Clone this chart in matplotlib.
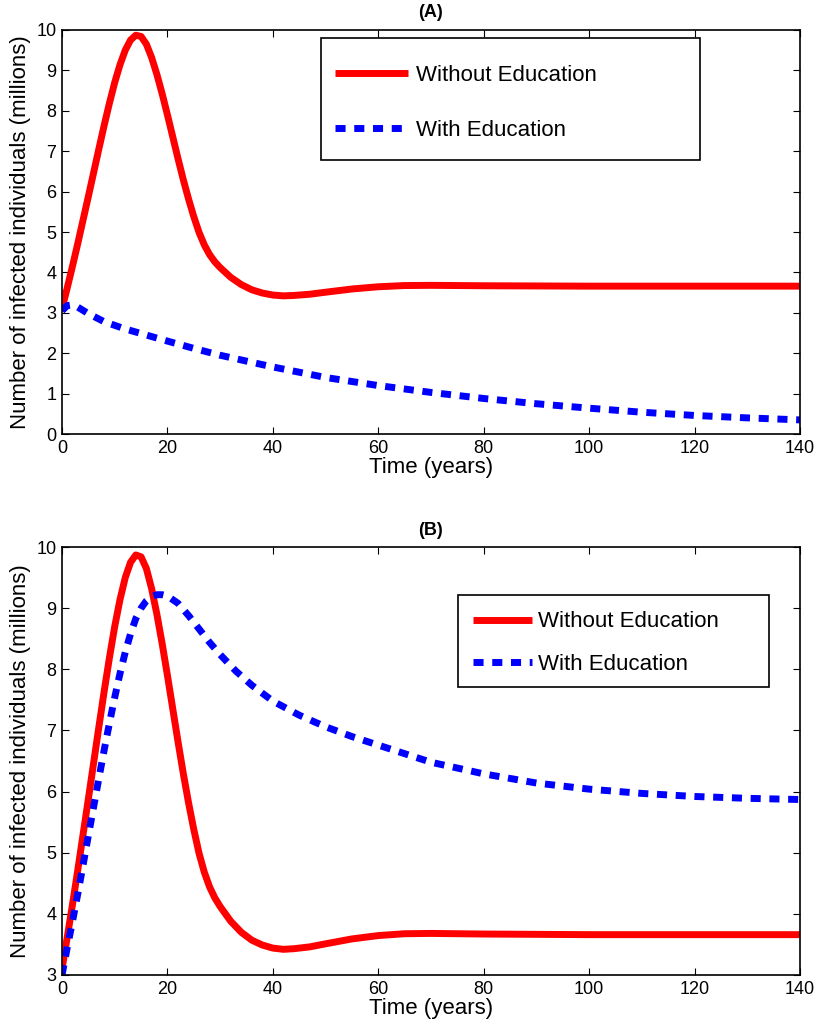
import matplotlib
matplotlib.use("Agg")

import matplotlib.pyplot as plt
from matplotlib.patches import Rectangle

plt.rcParams['font.family'] = ['Liberation Sans', 'DejaVu Sans']

# Without Education (same curve in both panels)
t_red = [0, 1, 2, 3, 4, 5, 6, 7, 8, 9, 10, 11, 12, 13, 14, 15, 16, 17, 18, 19,
         20, 21, 22, 23, 24, 25, 26, 27, 28, 29, 30, 32, 34, 36, 38, 40, 42,
         44, 47, 50, 55, 60, 65, 70, 75, 80, 90, 100, 120, 140]
y_red = [3.1, 3.62, 4.16, 4.72, 5.3, 5.88, 6.47, 7.06, 7.64, 8.19, 8.7, 9.14,
         9.5, 9.75, 9.87, 9.84, 9.65, 9.32, 8.9, 8.42, 7.9, 7.36, 6.82, 6.3,
         5.82, 5.38, 4.99, 4.68, 4.44, 4.26, 4.12, 3.88, 3.7, 3.57, 3.49, 3.44,
         3.42, 3.43, 3.46, 3.51, 3.59, 3.645, 3.675, 3.68, 3.675, 3.67, 3.665,
         3.66, 3.66, 3.66]

# With Education, panel A
t_blue_a = [0, 1, 2, 3, 5, 8, 12, 16, 20, 25, 30, 40, 50, 60, 70, 80, 90,
            100, 110, 120, 130, 140]
y_blue_a = [3.05, 3.18, 3.2, 3.14, 2.98, 2.78, 2.6, 2.45, 2.3, 2.12, 1.95,
            1.66, 1.4, 1.2, 1.03, 0.88, 0.75, 0.64, 0.54, 0.46, 0.4, 0.35]

# With Education, panel B
t_blue_b = [0, 1, 2, 3, 4, 5, 6, 7, 8, 9, 10, 11, 12, 13, 14, 15, 16, 17, 18,
            19, 20, 22, 24, 26, 28, 30, 33, 36, 40, 45, 50, 55, 60, 70, 80, 90,
            100, 110, 120, 130, 140]
y_blue_b = [3.0, 3.45, 3.88, 4.33, 4.8, 5.28, 5.75, 6.22, 6.68, 7.12, 7.54,
            7.93, 8.28, 8.58, 8.83, 9.0, 9.12, 9.19, 9.22, 9.22, 9.2, 9.08,
            8.88, 8.66, 8.44, 8.24, 7.97, 7.74, 7.48, 7.25, 7.06, 6.9, 6.76,
            6.48, 6.29, 6.14, 6.04, 5.97, 5.92, 5.89, 5.87]

labels = ['Without Education', 'With Education']
xticks = [0, 20, 40, 60, 80, 100, 120, 140]

fig = plt.figure(figsize=(8.19, 10.30), dpi=100)
ax1 = fig.add_axes([0.0757, 0.5786, 0.9011, 0.3923])
ax2 = fig.add_axes([0.0757, 0.0534, 0.9011, 0.4155])


def draw(ax, t_blue, y_blue, ymin, title):
    ax.plot(t_red, y_red, color='#ff0000', lw=5, solid_capstyle='butt',
            label=labels[0])
    ax.plot(t_blue, y_blue, color='#0000ff', lw=5, dashes=(1.45, 1.25),
            dash_capstyle='butt', label=labels[1])
    ax.set_xlim(0, 140)
    ax.set_ylim(ymin, 10)
    ax.set_xticks(xticks)
    ax.set_yticks(range(ymin, 11))
    ax.tick_params(direction='in', top=True, right=True, length=5,
                   labelsize=13, pad=4)
    for s in ax.spines.values():
        s.set_linewidth(1.2)
    ax.set_xlabel('Time (years)', fontsize=16, labelpad=0)
    ax.set_ylabel('Number of infected individuals (millions)', fontsize=16,
                  labelpad=4)
    ax.set_title(title, fontsize=13, fontweight='bold', pad=9)


def legend_box(ax, box, anchor, hlen, tpad, lspace):
    # MATLAB-style legend frame, drawn separately so the padding can differ
    ax.add_patch(Rectangle(box[:2], box[2], box[3], transform=ax.transAxes,
                           facecolor='white', edgecolor='black', lw=1.2,
                           zorder=4.5))
    leg = ax.legend(loc='center left', bbox_to_anchor=anchor, frameon=False,
                    fontsize=16, handlelength=hlen, handletextpad=tpad,
                    borderpad=0, borderaxespad=0, labelspacing=lspace)
    leg.set_zorder(5)


draw(ax1, t_blue_a, y_blue_a, 0, '(A)')
draw(ax2, t_blue_b, y_blue_b, 3, '(B)')

legend_box(ax1, (0.351, 0.678, 0.5136, 0.302), (0.370, 0.8195), 3.3, 0.36, 1.56)
legend_box(ax2, (0.5366, 0.6729, 0.4214, 0.215), (0.557, 0.7757), 2.65, 0.27, 0.95)

plt.savefig('out.png', dpi=100)
